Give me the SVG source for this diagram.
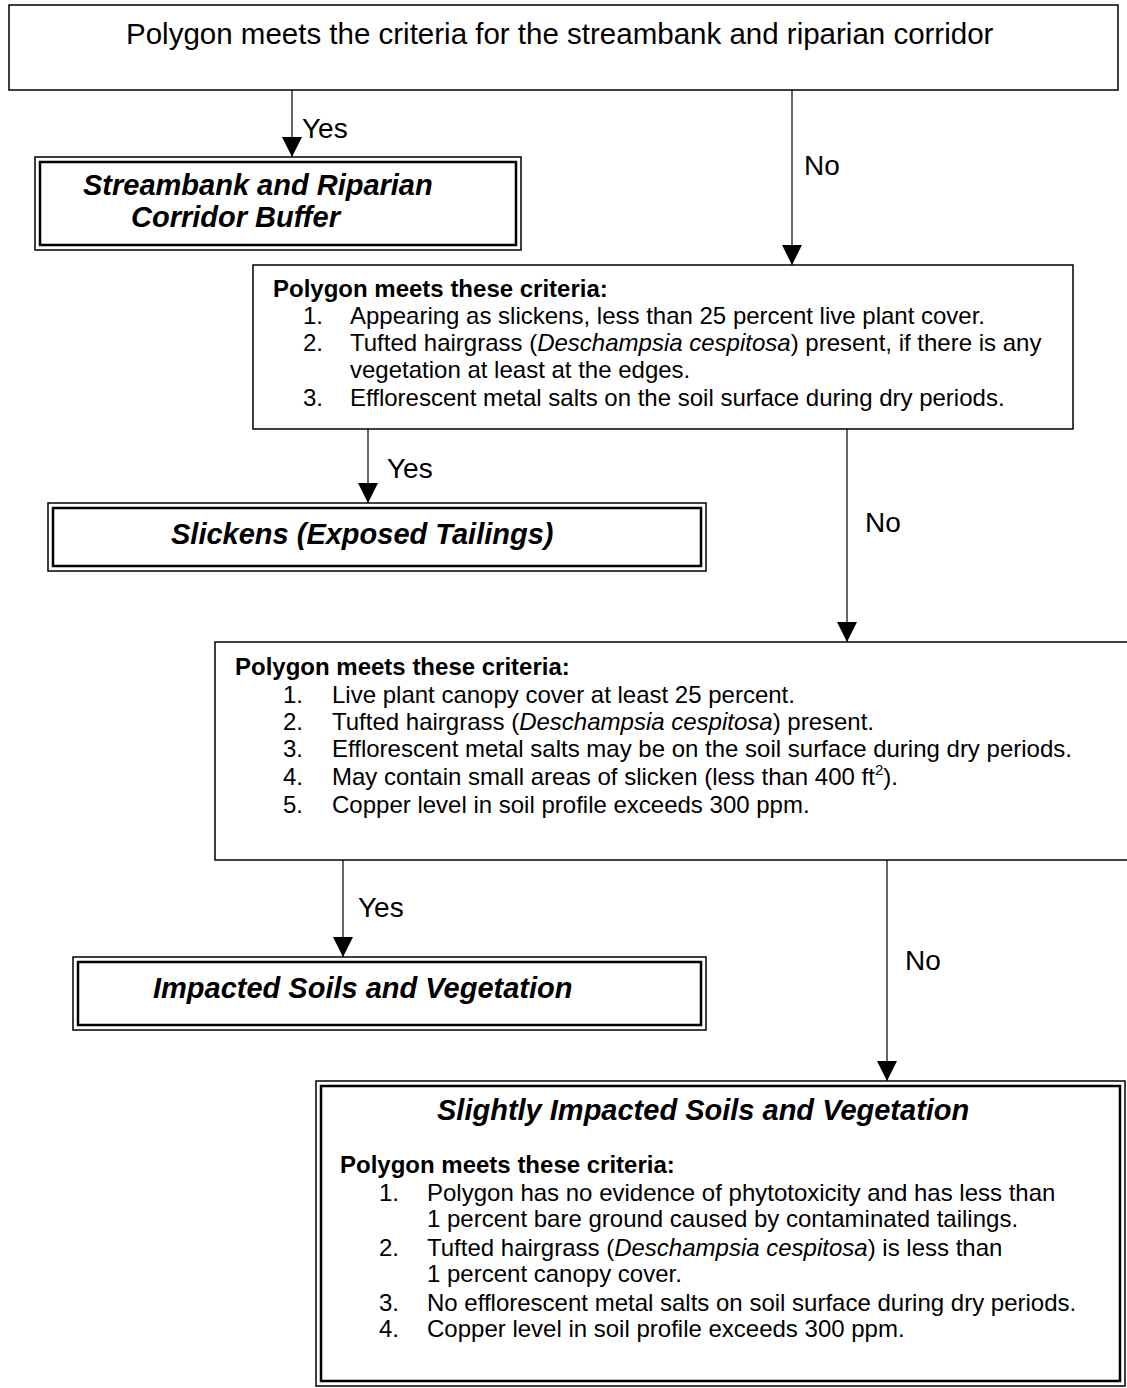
<svg xmlns="http://www.w3.org/2000/svg" width="1127" height="1388" viewBox="0 0 1127 1388">
<style>
text{font-family:"Liberation Sans",Arial,sans-serif;fill:#000}
.t29{font-size:29.5px}
.lbl{font-size:28px}
.hd{font-size:29px;font-weight:bold;font-style:italic}
.b24{font-size:24px;font-weight:bold}
.r24{font-size:24px}
.it{font-style:italic}
.box{fill:#fff;stroke:#000;stroke-width:1.5}
.outer{fill:#fff;stroke:#000;stroke-width:1.5}
.inner{fill:none;stroke:#000;stroke-width:2.5}
.conn{stroke:#000;stroke-width:1.2;fill:none;marker-end:url(#ah)}
</style>
<defs>
<marker id="ah" markerUnits="userSpaceOnUse" markerWidth="20" markerHeight="20" refX="20" refY="10" orient="auto">
<path d="M0,0 L20,10 L0,20 z" fill="#000"/>
</marker>
</defs>
<rect width="1127" height="1388" fill="#fff"/>

<g id="connectors">
<line class="conn" x1="292" y1="90" x2="292" y2="157"/>
<text class="lbl" x="302" y="138">Yes</text>
<line class="conn" x1="792" y1="90" x2="792" y2="265"/>
<text class="lbl" x="804" y="175">No</text>
<line class="conn" x1="368" y1="429" x2="368" y2="503"/>
<text class="lbl" x="387" y="478">Yes</text>
<line class="conn" x1="847" y1="429" x2="847" y2="642"/>
<text class="lbl" x="865" y="532">No</text>
<line class="conn" x1="343" y1="860" x2="343" y2="957"/>
<text class="lbl" x="358" y="917">Yes</text>
<line class="conn" x1="887" y1="860" x2="887" y2="1081"/>
<text class="lbl" x="905" y="970">No</text>
</g>

<g id="start">
<rect class="box" x="9" y="5" width="1109" height="85"/>
<text class="t29" x="126" y="44">Polygon meets the criteria for the streambank and riparian corridor</text>
</g>

<g id="streambank">
<rect class="outer" x="35" y="157" width="486" height="93"/>
<rect class="inner" x="40" y="162" width="476" height="83"/>
<text class="hd" x="83" y="195">Streambank and Riparian</text>
<text class="hd" x="131" y="227">Corridor Buffer</text>
</g>

<g id="criteria1">
<rect class="box" x="253" y="265" width="820" height="164"/>
<text class="b24" x="273" y="297">Polygon meets these criteria:</text>
<text class="r24" x="303" y="324">1.</text>
<text class="r24" x="350" y="324">Appearing as slickens, less than 25 percent live plant cover.</text>
<text class="r24" x="303" y="351">2.</text>
<text class="r24" x="350" y="351">Tufted hairgrass (<tspan class="it">Deschampsia cespitosa</tspan>) present, if there is any</text>
<text class="r24" x="350" y="378">vegetation at least at the edges.</text>
<text class="r24" x="303" y="406">3.</text>
<text class="r24" x="350" y="406">Efflorescent metal salts on the soil surface during dry periods.</text>
</g>

<g id="slickens">
<rect class="outer" x="48" y="503" width="658" height="68"/>
<rect class="inner" x="53" y="508" width="648" height="58"/>
<text class="hd" x="171" y="544">Slickens (Exposed Tailings)</text>
</g>

<g id="criteria2">
<rect class="box" x="215" y="642" width="920" height="218"/>
<text class="b24" x="235" y="675">Polygon meets these criteria:</text>
<text class="r24" x="283" y="703">1.</text>
<text class="r24" x="332" y="703">Live plant canopy cover at least 25 percent.</text>
<text class="r24" x="283" y="730">2.</text>
<text class="r24" x="332" y="730">Tufted hairgrass (<tspan class="it">Deschampsia cespitosa</tspan>) present.</text>
<text class="r24" x="283" y="757">3.</text>
<text class="r24" x="332" y="757">Efflorescent metal salts may be on the soil surface during dry periods.</text>
<text class="r24" x="283" y="785">4.</text>
<text class="r24" x="332" y="785">May contain small areas of slicken (less than 400 ft<tspan font-size="15" dy="-10">2</tspan><tspan dy="10">).</tspan></text>
<text class="r24" x="283" y="813">5.</text>
<text class="r24" x="332" y="813">Copper level in soil profile exceeds 300 ppm.</text>
</g>

<g id="impacted">
<rect class="outer" x="73" y="957" width="633" height="73"/>
<rect class="inner" x="78" y="962" width="623" height="63"/>
<text class="hd" x="153" y="998">Impacted Soils and Vegetation</text>
</g>

<g id="slightly">
<rect class="outer" x="316" y="1081" width="809" height="305"/>
<rect class="inner" x="321" y="1086" width="799" height="295"/>
<text class="hd" x="437" y="1120">Slightly Impacted Soils and Vegetation</text>
<text class="b24" x="340" y="1173">Polygon meets these criteria:</text>
<text class="r24" x="379" y="1201">1.</text>
<text class="r24" x="427" y="1201">Polygon has no evidence of phytotoxicity and has less than</text>
<text class="r24" x="427" y="1227">1 percent bare ground caused by contaminated tailings.</text>
<text class="r24" x="379" y="1256">2.</text>
<text class="r24" x="427" y="1256">Tufted hairgrass (<tspan class="it">Deschampsia cespitosa</tspan>) is less than</text>
<text class="r24" x="427" y="1282">1 percent canopy cover.</text>
<text class="r24" x="379" y="1311">3.</text>
<text class="r24" x="427" y="1311">No efflorescent metal salts on soil surface during dry periods.</text>
<text class="r24" x="379" y="1337">4.</text>
<text class="r24" x="427" y="1337">Copper level in soil profile exceeds 300 ppm.</text>
</g>
</svg>
